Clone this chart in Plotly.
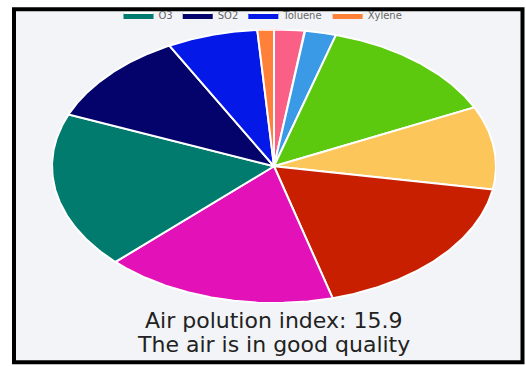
import numpy as np
import plotly.graph_objects as go

# ---- data ----
labels = ["PM2.5", "PM10", "NO", "NO2", "NOx", "CO", "O3", "SO2", "Toluene", "Xylene"]
values = [2.2, 2.3, 13.4, 9.8, 18.0, 16.9, 18.5, 11.0, 6.6, 1.2]
legend_labels = ["O3", "SO2", "Toluene", "Xylene"]
index_value = 15.9
quality_text = "good quality"

# ---- styles ----
colors = ["#fa5f85", "#3a9ae6", "#5cc80e", "#fdc65a", "#c71f00",
          "#e311b8", "#007b6e", "#03036b", "#0418e8", "#ff8038"]

W, H = 526, 366
L, R, T, B = 52, 30, 26, 63          # plot area 52..496 x 26..303
PW, PH = W - L - R, H - T - B


def px(xp):
    return (xp - L) / PW


def py(yp):
    return (H - B - yp) / PH


fig = go.Figure()

total = float(sum(values))
cum = 0.0
for lab, val, col in zip(labels, values, colors):
    a0 = 2 * np.pi * cum / total
    a1 = 2 * np.pi * (cum + val) / total
    cum += val
    th = np.linspace(a0, a1, 120)
    xs = np.concatenate([[0.0], np.sin(th), [0.0]])
    ys = np.concatenate([[0.0], np.cos(th), [0.0]])
    fig.add_trace(go.Scatter(
        x=xs, y=ys, mode="lines", fill="toself", fillcolor=col,
        line=dict(color="white", width=2),
        name=lab, showlegend=lab in legend_labels,
        hoveron="fills", hoverinfo="name",
    ))

fig.update_layout(
    width=W, height=H,
    margin=dict(l=L, r=R, t=T, b=B),
    paper_bgcolor="white",
    plot_bgcolor="rgba(0,0,0,0)",
    xaxis=dict(range=[-1.0, 1.0], visible=False, fixedrange=True),
    yaxis=dict(range=[-1.0, 1.0], visible=False, fixedrange=True),
    showlegend=True,
    legend=dict(
        orientation="h", x=0.5, xanchor="center", xref="container",
        y=1 - 15 / H, yanchor="middle", yref="container",
        font=dict(family="DejaVu Sans", size=10, color="#666666"),
        bgcolor="rgba(0,0,0,0)", itemwidth=30, traceorder="normal",
    ),
    shapes=[dict(
        type="rect", xref="paper", yref="paper", layer="below",
        x0=px(14), x1=px(522.5), y0=py(363), y1=py(5.5),
        fillcolor="#f2f4f7", line=dict(color="black", width=4),
    )],
    annotations=[
        dict(text=f"Air polution index: {index_value}", xref="paper", yref="paper",
             x=px(273), y=py(321), xanchor="center", yanchor="middle",
             showarrow=False,
             font=dict(family="DejaVu Sans", size=22, color="#222222")),
        dict(text=f"The air is in {quality_text}", xref="paper", yref="paper",
             x=px(273), y=py(345), xanchor="center", yanchor="middle",
             showarrow=False,
             font=dict(family="DejaVu Sans", size=22, color="#222222")),
    ],
)

fig.write_html("out.html")
